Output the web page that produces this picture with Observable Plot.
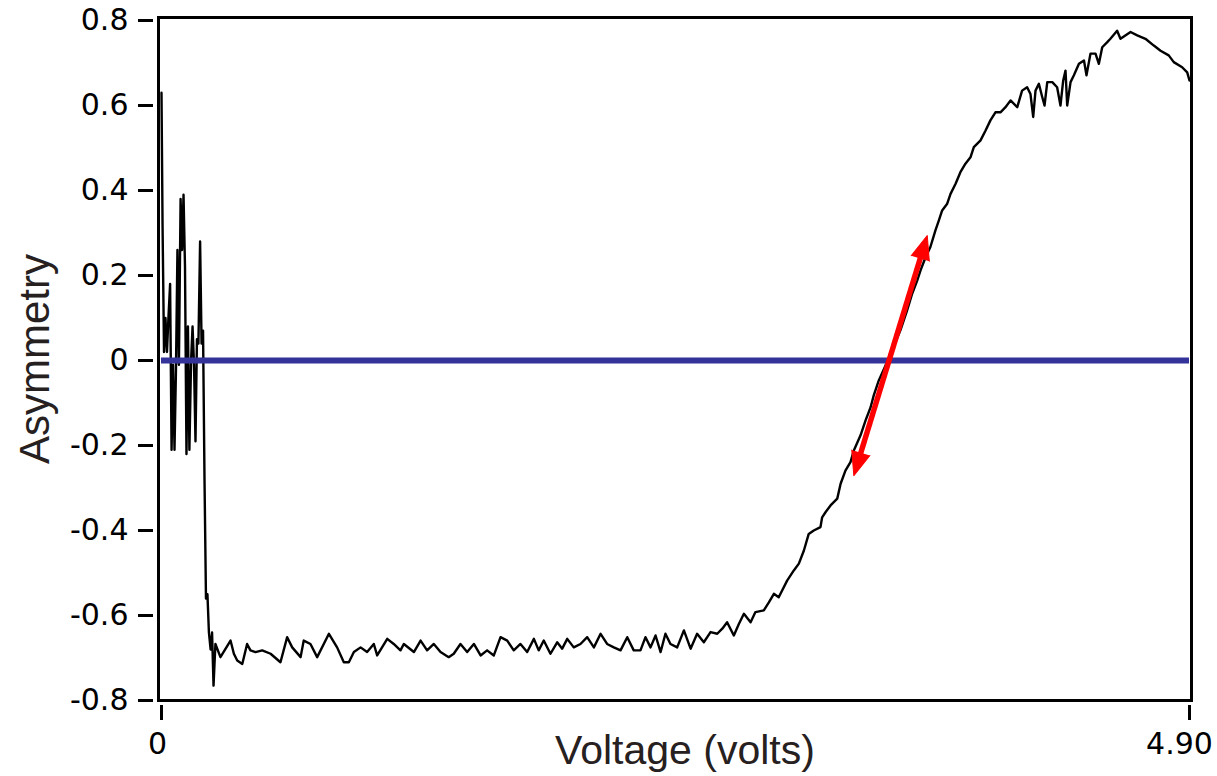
<!DOCTYPE html>
<html><head><meta charset="utf-8">
<script src="https://cdn.jsdelivr.net/npm/d3@7"></script>
<script src="https://cdn.jsdelivr.net/npm/@observablehq/plot@0.6"></script>
<style>body{margin:0;background:#fff;} #chart svg{display:block;background:#fff}</style>
</head><body><div id="chart"></div>
<script>
// [voltage (V), asymmetry]
const noisyStart = [[0,0.63],[0.005,0.32],[0.012,0.02],[0.019,0.10],[0.026,0.02],[0.033,0.10],[0.041,0.18],[0.048,-0.21],[0.055,-0.01],[0.062,-0.21],[0.069,-0.02],[0.076,0.26],[0.083,-0.01],[0.091,0.38],[0.098,0.26],[0.105,0.39],[0.112,0.22],[0.119,-0.22],[0.126,0.08],[0.133,-0.21],[0.141,0.00],[0.148,0.08],[0.155,-0.01],[0.162,-0.19],[0.169,0.05],[0.176,0.04],[0.184,0.28],[0.191,0.04],[0.198,0.07],[0.205,-0.28],[0.212,-0.56],[0.219,-0.55],[0.226,-0.64],[0.234,-0.68],[0.241,-0.64],[0.248,-0.765]];
const plateau = [[0.257,-0.667],[0.281,-0.698],[0.329,-0.659],[0.345,-0.69],[0.361,-0.706],[0.385,-0.714],[0.408,-0.667],[0.424,-0.682],[0.448,-0.686],[0.480,-0.682],[0.520,-0.69],[0.567,-0.71],[0.599,-0.651],[0.623,-0.675],[0.663,-0.698],[0.678,-0.659],[0.710,-0.667],[0.742,-0.698],[0.798,-0.643],[0.837,-0.675],[0.869,-0.71],[0.893,-0.71],[0.917,-0.686],[0.949,-0.675],[0.980,-0.686],[1.012,-0.667],[1.028,-0.694],[1.076,-0.655],[1.107,-0.667],[1.139,-0.682],[1.155,-0.667],[1.203,-0.686],[1.235,-0.659],[1.266,-0.682],[1.298,-0.667],[1.330,-0.686],[1.369,-0.698],[1.393,-0.69],[1.425,-0.667],[1.457,-0.686],[1.489,-0.667],[1.521,-0.694],[1.552,-0.682],[1.584,-0.694],[1.616,-0.651],[1.648,-0.659],[1.679,-0.682],[1.711,-0.667],[1.743,-0.686],[1.775,-0.655],[1.798,-0.682],[1.822,-0.659],[1.854,-0.69],[1.886,-0.663],[1.910,-0.678],[1.934,-0.655],[1.965,-0.675],[1.997,-0.667],[2.029,-0.651],[2.061,-0.675],[2.093,-0.643],[2.124,-0.667],[2.156,-0.675],[2.188,-0.682],[2.220,-0.651],[2.251,-0.682],[2.283,-0.682],[2.307,-0.651],[2.331,-0.675],[2.355,-0.647],[2.379,-0.686],[2.402,-0.643],[2.426,-0.667],[2.458,-0.675],[2.490,-0.635],[2.522,-0.678],[2.553,-0.643],[2.585,-0.663],[2.617,-0.639],[2.649,-0.643]];
const rise = [[2.673,-0.631],[2.696,-0.616],[2.728,-0.647],[2.752,-0.62],[2.776,-0.596],[2.808,-0.616],[2.831,-0.592],[2.871,-0.588],[2.895,-0.569],[2.919,-0.549],[2.942,-0.557],[2.982,-0.518],[3.014,-0.494],[3.038,-0.478],[3.062,-0.447],[3.085,-0.408],[3.109,-0.4],[3.141,-0.392],[3.149,-0.369],[3.165,-0.357],[3.189,-0.341],[3.221,-0.325],[3.237,-0.29],[3.260,-0.259],[3.284,-0.239],[3.300,-0.212],[3.332,-0.176],[3.356,-0.141],[3.380,-0.11],[3.395,-0.082],[3.419,-0.047],[3.448,-0.015],[3.475,0.016],[3.522,0.071],[3.554,0.118],[3.578,0.157],[3.602,0.188],[3.618,0.212],[3.642,0.243],[3.665,0.267],[3.689,0.306],[3.705,0.329],[3.721,0.353],[3.745,0.369],[3.761,0.392],[3.785,0.416],[3.808,0.443],[3.832,0.463],[3.856,0.478],[3.872,0.502],[3.904,0.518],[3.928,0.541],[3.951,0.565],[3.975,0.584]];
const peak = [[3.999,0.584],[4.023,0.596],[4.047,0.612],[4.079,0.596],[4.102,0.635],[4.126,0.643],[4.142,0.627],[4.155,0.573],[4.166,0.635],[4.182,0.651],[4.198,0.620],[4.209,0.600],[4.222,0.655],[4.246,0.655],[4.269,0.643],[4.285,0.600],[4.298,0.659],[4.309,0.682],[4.317,0.600],[4.333,0.655],[4.349,0.671],[4.373,0.698],[4.397,0.706],[4.409,0.671],[4.428,0.722],[4.452,0.722],[4.468,0.698],[4.484,0.737],[4.508,0.749],[4.523,0.757],[4.555,0.776],[4.571,0.757],[4.619,0.773],[4.651,0.765],[4.690,0.757],[4.730,0.741],[4.762,0.729],[4.801,0.718],[4.825,0.702],[4.865,0.690],[4.889,0.678],[4.90,0.659]];

const yTicks = [0.8, 0.6, 0.4, 0.2, 0, -0.2, -0.4, -0.6, -0.8];
const yTickLabels = ["0.8", "0.6", "0.4", "0.2", "0", "-0.2", "-0.4", "-0.6", "-0.8"];
const xTicks = [0, 4.9];
const xTickLabels = ["0", "4.90"];
const arrowFrom = [3.300, -0.271];
const arrowTo = [3.650, 0.294];
const zeroLine = [0];
const xLabel = "Voltage (volts)";
const yLabel = "Asymmetry";

const W = 1217, H = 776;
const xRange = [161, 1189], yRange = [700, 20];
const xDomain = [0, 4.9], yDomain = [-0.8, 0.8];

const series = [...noisyStart, ...plateau, ...rise, ...peak].map(([v, a]) => ({v, a}));

// screen angle of the arrow (degrees clockwise from up)
const kx = (xRange[1] - xRange[0]) / (xDomain[1] - xDomain[0]);
const ky = (yRange[0] - yRange[1]) / (yDomain[1] - yDomain[0]);
const ang = Math.atan2((arrowTo[0] - arrowFrom[0]) * kx, (arrowTo[1] - arrowFrom[1]) * ky) * 180 / Math.PI;
const heads = [
  {x: arrowTo[0], y: arrowTo[1], r: ang},
  {x: arrowFrom[0], y: arrowFrom[1], r: ang + 180}
];

const tickFont = "'DejaVu Sans', Verdana, sans-serif";
const labelFont = "'Liberation Sans', Arial, sans-serif";
const xLabelFmt = d => xTickLabels[xTicks.indexOf(d)];
const chart = Plot.plot({
  width: W, height: H,
  marginLeft: 158, marginRight: 26, marginTop: 17, marginBottom: 76,
  style: {fontFamily: tickFont, fontSize: "30px", background: "#fff", color: "#000"},
  x: {domain: xDomain, range: xRange},
  y: {domain: yDomain, range: yRange},
  marks: [
    Plot.line(series, {x: "v", y: "a", stroke: "#000", strokeWidth: 2.4}),
    Plot.ruleY(zeroLine, {x1: xDomain[0], x2: xDomain[1], stroke: "#333399", strokeWidth: 6}),
    Plot.arrow([0], {x1: () => arrowFrom[0], y1: () => arrowFrom[1], x2: () => arrowTo[0], y2: () => arrowTo[1],
      stroke: "#ff0000", strokeWidth: 5.5, headLength: 0, insetStart: 14, insetEnd: 14, strokeLinecap: "butt"}),
    Plot.vector(heads, {x: "x", y: "y", rotate: "r", length: 24, r: 9.5, anchor: "end", shape: "spike",
      fill: "#ff0000", stroke: "#ff0000", strokeWidth: 1}),
    Plot.frame({stroke: "#000", strokeWidth: 3}),
    Plot.axisY(yTicks, {anchor: "left", tickSize: 15, dx: -5, tickPadding: 10, strokeWidth: 3,
      tickFormat: d => yTickLabels[yTicks.indexOf(d)], fontSize: 30, label: null}),
    Plot.axisX(xTicks, {anchor: "bottom", tickSize: 15, dy: 5, strokeWidth: 3, tickFormat: () => "", label: null}),
    Plot.axisX([xTicks[0]], {anchor: "bottom", tickSize: 0, dy: 5, dx: -4, tickPadding: 27,
      tickFormat: xLabelFmt, fontSize: 30, label: null}),
    Plot.axisX([xTicks[1]], {anchor: "bottom", tickSize: 0, dy: 5, dx: -10, tickPadding: 27,
      tickFormat: xLabelFmt, fontSize: 30, label: null}),
    Plot.text([xLabel], {text: d => d, frameAnchor: "bottom", dy: 34, dx: 10, lineAnchor: "top",
      fontFamily: labelFont, fontSize: 41, fill: "#262020"}),
    Plot.text([yLabel], {text: d => d, frameAnchor: "left", dx: -123, rotate: -90, textAnchor: "middle",
      fontFamily: labelFont, fontSize: 42, fill: "#262020"})
  ]
});
document.getElementById("chart").appendChild(chart);
</script>
</body></html>
